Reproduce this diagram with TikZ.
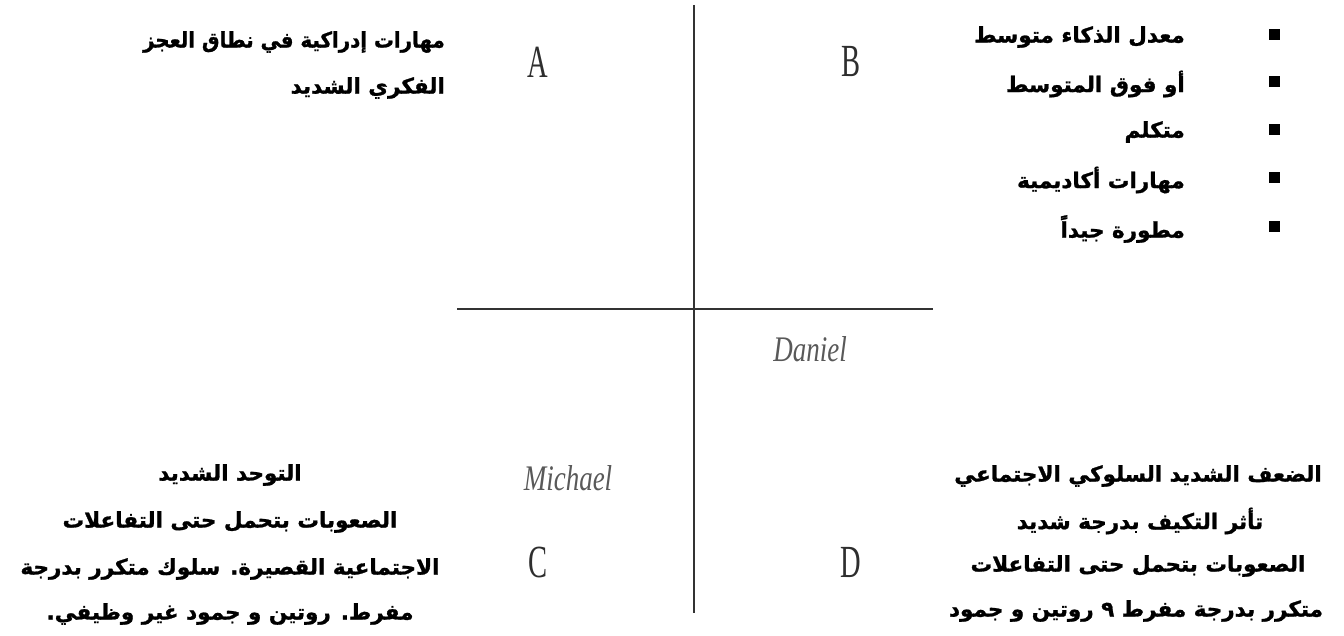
\documentclass[tikz,border=0pt]{standalone}
\usepackage{fontspec}
\setmainfont{Liberation Serif}
\newfontfamily\arabicfont[Script=Arabic, BoldFeatures={FakeBold=1.2}]{DejaVu Sans}
\TeXXeTstate=1
\newcommand{\ar}[1]{\beginR #1\endR}
\begin{document}
\begin{tikzpicture}[x=1pt,y=-1pt,
  artext/.style={font=\arabicfont\bfseries\fontsize{21.5}{24}\selectfont, inner sep=0pt, text=black},
  letter/.style={font=\fontsize{46}{50}\selectfont, text=black!82, inner sep=0pt},
  person/.style={font=\itshape\fontsize{36}{40}\selectfont, text=black!65, inner sep=0pt},
  bulletbox/.style={rectangle, fill=black, minimum size=11pt, inner sep=0pt},
  axis/.style={line width=2.6pt, draw=black!80}
]
\useasboundingbox (0,0) rectangle (1344,636);

% axes
\coordinate (vtop) at (694,5);
\coordinate (vbot) at (694,613);
\coordinate (hleft) at (457,309);
\coordinate (hright) at (933,309);
\draw[axis] (vtop) -- (vbot);
\draw[axis] (hleft) -- (hright);

% quadrant letters
\node[letter] (A) at (538,62) {\scalebox{0.62}[1]{A}};
\node[letter] (B) at (851,62) {\scalebox{0.62}[1]{B}};
\node[letter] (C) at (538,562) {\scalebox{0.62}[1]{C}};
\node[letter] (D) at (851,562) {\scalebox{0.62}[1]{D}};

% names
\node[person] (daniel) at (810,349) {\scalebox{0.75}[1]{Daniel}};
\node[person] (michael) at (568,478) {\scalebox{0.75}[1]{Michael}};

% top left text
\node[artext, anchor=east] (tl1) at (445,42) {\scalebox{0.92}[1]{\ar{مهارات إدراكية في نطاق العجز}}};
\node[artext, anchor=east] (tl2) at (445,88) {\ar{الفكري الشديد}};

% right bullet list
\node[bulletbox] (b1) at (1274,35) {};
\node[bulletbox] (b2) at (1274,82) {};
\node[bulletbox] (b3) at (1274,130) {};
\node[bulletbox] (b4) at (1274,178) {};
\node[bulletbox] (b5) at (1274,227) {};
\node[artext, anchor=east] (r1) at (1185,37) {\ar{معدل الذكاء متوسط}};
\node[artext, anchor=east] (r2) at (1185,84) {\ar{أو فوق المتوسط}};
\node[artext, anchor=east] (r3) at (1185,132) {\ar{متكلم}};
\node[artext, anchor=east] (r4) at (1185,180) {\ar{مهارات أكاديمية}};
\node[artext, anchor=east] (r5) at (1185,229) {\ar{مطورة جيداً}};

% bottom left text
\node[artext] (bl1) at (230,475) {\ar{التوحد الشديد}};
\node[artext] (bl2) at (230,522) {\ar{الصعوبات بتحمل حتى التفاعلات}};
\node[artext] (bl3) at (230,569) {\ar{الاجتماعية القصيرة. سلوك متكرر بدرجة}};
\node[artext] (bl4) at (230,614) {\ar{مفرط. روتين و جمود غير وظيفي.}};

% bottom right text
\node[artext] (br1) at (1138,476) {\ar{الضعف الشديد السلوكي الاجتماعي}};
\node[artext] (br2) at (1140,521) {\ar{تأثر التكيف بدرجة شديد}};
\node[artext] (br3) at (1138,566) {\ar{الصعوبات بتحمل حتى التفاعلات}};
\node[artext] (br4) at (1136,611) {\ar{متكرر بدرجة مفرط ٩ روتين و جمود}};
\end{tikzpicture}
\end{document}
